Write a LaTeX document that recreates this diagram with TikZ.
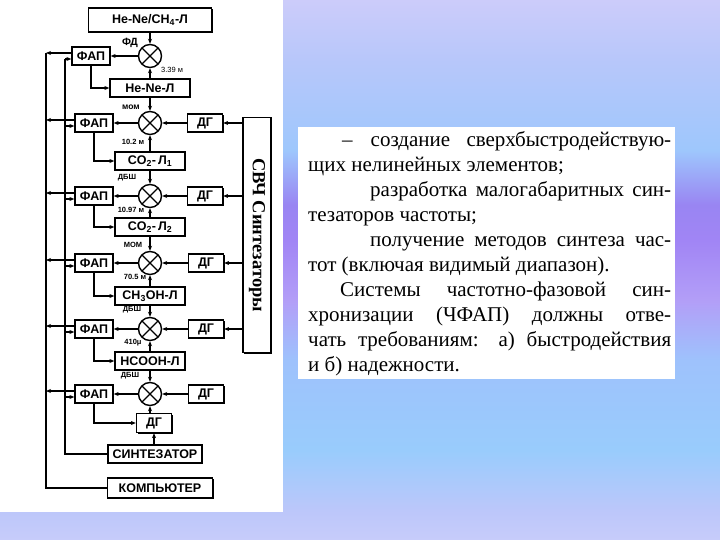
\documentclass[tikz,border=0pt]{standalone}
\usepackage{fontspec}
\setmainfont{Liberation Serif}
\setsansfont{Liberation Sans}
\usetikzlibrary{arrows.meta,shadows}

% background: lavender -> blue -> purple band -> blue -> lavender
\pgfdeclareverticalshading{fon}{100bp}{rgb(0bp)=(0.78,0.80,0.98); rgb(25bp)=(0.78,0.80,0.98); rgb(27.6bp)=(0.74,0.78,0.98); rgb(33.3bp)=(0.60,0.80,0.99); rgb(41.7bp)=(0.62,0.76,0.99); rgb(47.2bp)=(0.70,0.62,0.97); rgb(52.8bp)=(0.63,0.52,0.96); rgb(56bp)=(0.60,0.52,0.95); rgb(61.1bp)=(0.62,0.78,0.99); rgb(69.4bp)=(0.72,0.78,0.98); rgb(75bp)=(0.80,0.80,0.98); rgb(100bp)=(0.80,0.80,0.98)}

\tikzset{
  blok/.style={draw, fill=white, line width=1.3pt, inner sep=0pt,
    minimum height=18pt, font=\sffamily\bfseries\fontsize{12.5}{13}\selectfont,
    drop shadow={shadow xshift=1pt, shadow yshift=-1pt, opacity=1, fill=black}},
  smes/.style={circle, draw, fill=white, line width=1.4pt, minimum size=23pt, inner sep=0pt,
    path picture={\draw[line width=1.4pt]
      (path picture bounding box.north west) -- (path picture bounding box.south east)
      (path picture bounding box.north east) -- (path picture bounding box.south west);}},
  metka/.style={inner sep=0pt, font=\sffamily\bfseries\fontsize{7.5}{7.5}\selectfont},
  svyaz/.style={line width=1.1pt, -{Stealth[length=5pt,width=4pt]}},
  liniya/.style={line width=1.1pt},
}

\begin{document}
\begin{tikzpicture}[x=1pt, y=-1pt]
  \useasboundingbox (0,0) rectangle (720,540);

  %% ===================== BACKGROUND =====================
  \shade[shading=fon] (0,0) rectangle (720,540);
  \fill[white] (0,0) rectangle (283,512);
  \fill[white] (298,127) rectangle (675,379);

  %% ================= LASER CHAIN (middle) ================
  \node[blok, minimum width=123pt, minimum height=24pt] (heCH) at (150,20) {He-Ne/CH\textsubscript{4}-Л};
  \node[smes] (m1) at (150,56) {};
  \node[blok, minimum width=80pt] (l1) at (150,88) {He-Ne-Л};
  \node[smes] (m2) at (150,123) {};
  \node[blok, minimum width=70pt] (l2) at (150,161) {CO\textsubscript{2}-\,Л\textsubscript{1}};
  \node[smes] (m3) at (150,196) {};
  \node[blok, minimum width=70pt] (l3) at (150,227) {CO\textsubscript{2}-\,Л\textsubscript{2}};
  \node[smes] (m4) at (150,263) {};
  \node[blok, minimum width=70pt] (l4) at (150,296) {CH\textsubscript{3}OH-Л};
  \node[smes] (m5) at (150,329) {};
  \node[blok, minimum width=70pt] (l5) at (150,361) {HCOOH-Л};
  \node[smes] (m6) at (150,394) {};
  \node[blok, minimum width=35pt, minimum height=19pt] (d7) at (154,423) {ДГ};
  \node[blok, minimum width=94pt] (sint) at (155,454) {СИНТЕЗАТОР};
  \node[blok, minimum width=105pt, minimum height=20pt] (komp) at (160,488) {КОМПЬЮТЕР};

  % small labels next to the mixers
  \node[metka, font=\sffamily\bfseries\fontsize{10.5}{10.5}\selectfont] (tFD) at (130,43) {ФД};
  \node[metka, font=\sffamily\fontsize{7.5}{7.5}\selectfont] (t339) at (172,70) {3.39 м};
  \node[metka, font=\sffamily\bfseries\fontsize{8.5}{8.5}\selectfont] (tMOM1) at (131,107) {мом};
  \node[metka] (t102) at (133,142) {10.2 м};
  \node[metka] (tDBSH1) at (127,178) {ДБШ};
  \node[metka] (t1097) at (131,210) {10.97 м};
  \node[metka] (tMOM2) at (133,245) {МОМ};
  \node[metka] (t705) at (135,277) {70.5 м};
  \node[metka] (tDBSH2) at (132,310) {ДБШ};
  \node[metka] (t410) at (133,343) {410μ};
  \node[metka] (tDBSH3) at (130,376) {ДБШ};

  %% ===================== ФАП (left) =====================
  \node[blok, minimum width=38pt] (f1) at (91,56) {ФАП};
  \node[blok, minimum width=38pt] (f2) at (94,123) {ФАП};
  \node[blok, minimum width=38pt] (f3) at (94,196) {ФАП};
  \node[blok, minimum width=38pt] (f4) at (94,263) {ФАП};
  \node[blok, minimum width=38pt] (f5) at (94,329) {ФАП};
  \node[blok, minimum width=38pt] (f6) at (94,394) {ФАП};

  %% ====================== ДГ (right) =====================
  \node[blok, minimum width=35pt] (d2) at (205,123) {ДГ};
  \node[blok, minimum width=35pt] (d3) at (205,196) {ДГ};
  \node[blok, minimum width=35pt] (d4) at (206,263) {ДГ};
  \node[blok, minimum width=35pt] (d5) at (206,329) {ДГ};
  \node[blok, minimum width=35pt] (d6) at (206,394) {ДГ};

  % СВЧ synthesizer column
  \node[blok, minimum width=28pt, minimum height=235pt] (svch) at (257,235) {};
  \node[rotate=-90, inner sep=0pt, font=\rmfamily\bfseries\fontsize{18.5}{18.5}\selectfont]
    (svchText) at (svch) {СВЧ Синтезаторы};

  %% ===================== CONNECTIONS =====================
  % lasers into mixers
  \draw[svyaz] (heCH.south -| m1) -- (m1.north);
  \draw[svyaz] (l1.north) -- (m1.south);
  \draw[svyaz] (l1.south) -- (m2.north);
  \draw[svyaz] (l2.north) -- (m2.south);
  \draw[svyaz] (l2.south) -- (m3.north);
  \draw[svyaz] (l3.north) -- (m3.south);
  \draw[svyaz] (l3.south) -- (m4.north);
  \draw[svyaz] (l4.north) -- (m4.south);
  \draw[svyaz] (l4.south) -- (m5.north);
  \draw[svyaz] (l5.north) -- (m5.south);
  \draw[svyaz] (l5.south) -- (m6.north);
  \draw[svyaz] (d7.north -| m6) -- (m6.south);
  \draw[svyaz] (sint.north -| d7) -- (d7.south);

  % mixers into ФАП
  \draw[svyaz] (m1.west) -- (f1.east);
  \draw[svyaz] (m2.west) -- (f2.east);
  \draw[svyaz] (m3.west) -- (f3.east);
  \draw[svyaz] (m4.west) -- (f4.east);
  \draw[svyaz] (m5.west) -- (f5.east);
  \draw[svyaz] (m6.west) -- (f6.east);

  % ФАП back to the lasers
  \draw[svyaz] (f1.south) |- (l1.west);
  \draw[svyaz] (f2.south) |- (l2.west);
  \draw[svyaz] (f3.south) |- (l3.west);
  \draw[svyaz] (f4.south) |- (l4.west);
  \draw[svyaz] (f5.south) |- (l5.west);
  \draw[svyaz] (f6.south) |- (d7.west);

  % ДГ into mixers, СВЧ into ДГ
  \draw[svyaz] (d2.west) -- (m2.east);
  \draw[svyaz] (d3.west) -- (m3.east);
  \draw[svyaz] (d4.west) -- (m4.east);
  \draw[svyaz] (d5.west) -- (m5.east);
  \draw[svyaz] (d6.west) -- (m6.east);
  \draw[svyaz] (svch.west |- d2) -- (d2.east);
  \draw[svyaz] (svch.west |- d3) -- (d3.east);
  \draw[svyaz] (svch.west |- d4) -- (d4.east);
  \draw[svyaz] (svch.west |- d5) -- (d5.east);

  % left buses: outer one to КОМПЬЮТЕР, inner one from СИНТЕЗАТОР
  \coordinate (shinaA) at (46,0);
  \coordinate (shinaB) at (65,0);
  \draw[liniya] ([yshift=3pt]f1.west -| shinaA) |- (komp.west);
  \draw[liniya] (sint.west) -| ([yshift=-3pt]f1.west -| shinaB);
  \draw[svyaz] ([yshift=3pt]f1.west) -- ([yshift=3pt]f1.west -| shinaA);
  \draw[svyaz] ([yshift=3pt]f2.west) -- ([yshift=3pt]f2.west -| shinaA);
  \draw[svyaz] ([yshift=3pt]f3.west) -- ([yshift=3pt]f3.west -| shinaA);
  \draw[svyaz] ([yshift=3pt]f4.west) -- ([yshift=3pt]f4.west -| shinaA);
  \draw[svyaz] ([yshift=3pt]f5.west) -- ([yshift=3pt]f5.west -| shinaA);
  \draw[svyaz] ([yshift=3pt]f6.west) -- ([yshift=3pt]f6.west -| shinaA);
  \draw[svyaz] ([yshift=-3pt]f1.west -| shinaB) -- ([yshift=-3pt]f1.west);
  \draw[svyaz] ([yshift=-3pt]f2.west -| shinaB) -- ([yshift=-3pt]f2.west);
  \draw[svyaz] ([yshift=-3pt]f3.west -| shinaB) -- ([yshift=-3pt]f3.west);
  \draw[svyaz] ([yshift=-3pt]f4.west -| shinaB) -- ([yshift=-3pt]f4.west);
  \draw[svyaz] ([yshift=-3pt]f5.west -| shinaB) -- ([yshift=-3pt]f5.west);
  \draw[svyaz] ([yshift=-3pt]f6.west -| shinaB) -- ([yshift=-3pt]f6.west);

  %% ===================== TEXT (right) =====================
  \node[anchor=north west, inner sep=0pt, align=left, font=\fontsize{21}{25}\selectfont]
    (tekst) at (308,131) {%
    \makebox[363pt][s]{\hspace*{34pt}–\hspace*{18pt}создание сверхбыстродействую-}\\
    щих нелинейных элементов;\\
    \makebox[363pt][s]{\hspace*{62pt}разработка малогабаритных син-}\\
    тезаторов частоты;\\
    \makebox[363pt][s]{\hspace*{62pt}получение методов синтеза час-}\\
    тот (включая видимый диапазон).\\
    \makebox[363pt][s]{\hspace*{32pt}Системы частотно-фазовой син-}\\
    \makebox[363pt][s]{хронизации (ЧФАП) должны отве-}\\
    \makebox[363pt][s]{чать требованиям: а) быстродействия}\\
    и б) надежности.};

\end{tikzpicture}
\end{document}
